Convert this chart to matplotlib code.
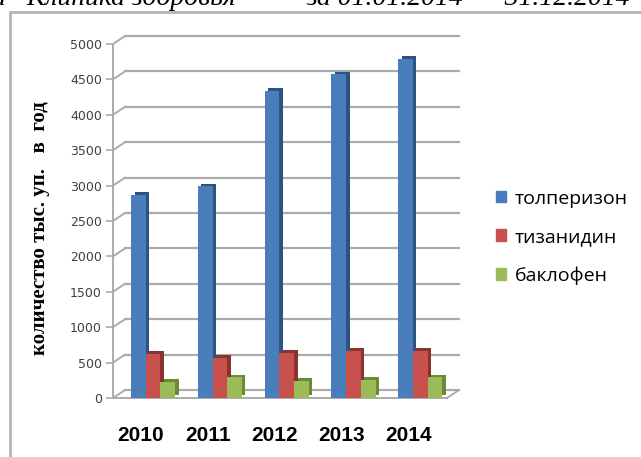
import numpy as np
import matplotlib.pyplot as plt
import matplotlib.patheffects as pe
from matplotlib.transforms import ScaledTranslation
from matplotlib.patches import Rectangle

# Данные: продажи миорелаксантов, тыс. уп. в год
years = ["2010", "2011", "2012", "2013", "2014"]
tolperizon = [2870, 2990, 4340, 4570, 4790]
tizanidin = [620, 570, 640, 670, 670]
baklofen = [230, 290, 240, 260, 290]
series_names = ["толперизон", "тизанидин", "баклофен"]
y_ticks = [0, 500, 1000, 1500, 2000, 2500, 3000, 3500, 4000, 4500, 5000]

colors = ["#4a7ebb", "#c8504d", "#9bbb59"]
side_colors = ["#2f5381", "#8a3230", "#6a8a33"]
grid_color = "#ababab"

fig = plt.figure(figsize=(6.41, 4.57), dpi=100)
fig.patch.set_facecolor("white")

# рамка диаграммы
fig.add_artist(Rectangle((10 / 641, -0.05), 1.0, 1 - 12 / 457 + 0.05,
                         transform=fig.transFigure, fill=False,
                         edgecolor="#b4b4b4", linewidth=2))

# строка подписи над диаграммой (видна только нижняя часть)
cap_style = dict(family="Liberation Serif", style="italic", fontsize=20,
                 va="baseline", ha="left")
fig.text(-8 / 641, 1 - 5 / 457, 'а   Клиника здоровья"', **cap_style)
fig.text(306 / 641, 1 - 5 / 457, 'за 01.01.2014  –  31.12.2014', **cap_style)

ax = fig.add_axes([113 / 641, 1 - 398 / 457, 334 / 641, (398 - 44) / 457])
ax.set_xlim(-0.6, 4.4)
ax.set_ylim(0, 5000)
for s in ax.spines.values():
    s.set_visible(False)

# задняя стенка: смещение вверх-вправо для псевдо-3D
back = ax.transData + ScaledTranslation(0.12, 0.08, fig.dpi_scale_trans)
x0, x1 = ax.get_xlim()
for yv in y_ticks:
    ax.plot([x0, x1], [yv, yv], color=grid_color, lw=1.6,
            transform=back, clip_on=False, zorder=0)
    ax.annotate("", xy=(x0, yv), xycoords=back, xytext=(x0, yv),
                textcoords="data",
                arrowprops=dict(arrowstyle="-", color=grid_color, lw=1.4,
                                shrinkA=0, shrinkB=0))
# пол
ax.annotate("", xy=(x1, 0), xycoords=back, xytext=(x1, 0),
            textcoords="data",
            arrowprops=dict(arrowstyle="-", color=grid_color, lw=1.4,
                            shrinkA=0, shrinkB=0))
ax.plot([x0, x1], [0, 0], color=grid_color, lw=1.4, clip_on=False, zorder=1)
ax.plot([x0, x0], [0, 5000], color=grid_color, lw=1.4, clip_on=False, zorder=1)

x = np.arange(len(years))
w = 0.22
data = [tolperizon, tizanidin, baklofen]
for i, vals in enumerate(data):
    ax.bar(x + (i - 1) * w, vals, width=w, color=colors[i], label=series_names[i],
           zorder=3 + i,
           path_effects=[pe.SimplePatchShadow(offset=(2.5, 2),
                                              shadow_rgbFace=side_colors[i],
                                              alpha=1.0),
                         pe.Normal()])

ax.set_yticks(y_ticks)
ax.set_yticklabels([str(v) for v in y_ticks], fontsize=9, color="#404040")
ax.tick_params(axis="y", length=5, width=1.2, color=grid_color, pad=3)
ax.set_xticks(x - 0.18)
ax.set_xticklabels(years, fontsize=15, fontweight="bold",
                   family="Liberation Sans")
ax.tick_params(axis="x", length=0, pad=20)

fig.text(40 / 641, 1 - 228 / 457, "количество тыс. уп.   в  год",
         rotation=90, family="Liberation Serif", fontweight="bold",
         fontsize=15, ha="center", va="center")

fig.legend(
    [Rectangle((0, 0), 1, 1, color=c) for c in colors], series_names,
    loc="upper left", bbox_to_anchor=(478 / 641, 1 - 172 / 457),
    frameon=False, prop={"family": "Open Sans", "size": 14},
    handlelength=0.55, handleheight=0.55, handletextpad=0.45,
    labelspacing=1.05)

fig.savefig("out.png", dpi=100)
